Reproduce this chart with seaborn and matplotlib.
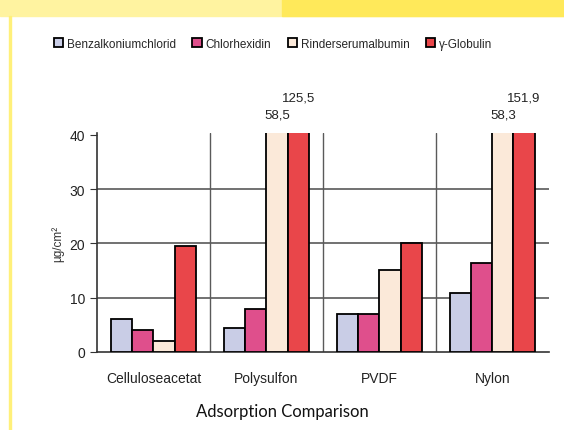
import pandas as pd
import numpy as np
import seaborn as sns
import matplotlib.pyplot as plt
from matplotlib.patches import Rectangle

# Werte aus der Abbildung (µg/cm²)
materialien = ['Celluloseacetat', 'Polysulfon', 'PVDF', 'Nylon']
substanzen = ['Benzalkoniumchlorid', 'Chlorhexidin', 'Rinderserumalbumin', 'γ-Globulin']
benzalkonium = [6.0, 4.5, 7.0, 10.8]
chlorhexidin = [4.0, 8.0, 7.0, 16.3]
rinderserum = [2.0, 58.5, 15.0, 58.3]
globulin = [19.5, 125.5, 20.0, 151.9]
farben = ['#c9cde6', '#df4f8c', '#fbe9d9', '#e9464a']

df = pd.DataFrame({
    'Material': materialien * 4,
    'Substanz': np.repeat(substanzen, 4),
    'Wert': benzalkonium + chlorhexidin + rinderserum + globulin,
})

sns.set_style('white')
plt.rcParams['font.family'] = ['Liberation Sans', 'DejaVu Sans']

fig = plt.figure(figsize=(5.64, 4.31), dpi=100)
ax = fig.add_axes([0.172, 0.181, 0.801, 0.508])

# gelber Rahmen
fig.patches.append(Rectangle((0, 0.96), 1, 0.04, transform=fig.transFigure,
                             color='#fff3a0', zorder=-5))
fig.patches.append(Rectangle((0.5, 0.96), 0.5, 0.04, transform=fig.transFigure,
                             color='#ffe95a', zorder=-5))
fig.patches.append(Rectangle((0.016, 0), 0.003, 0.96, transform=fig.transFigure,
                             color='#fff07a', zorder=-5))

sns.barplot(data=df, x='Material', y='Wert', hue='Substanz', order=materialien,
            hue_order=substanzen, palette=farben, width=0.75, edgecolor='black',
            linewidth=1.3, saturation=1, ax=ax, zorder=3)

ymax = 40
ax.set_ylim(0, 40.3)
ax.set_xlim(-0.5, 3.5)
ax.set_yticks([0, 10, 20, 30, 40])
for y in [10, 20, 30]:
    ax.axhline(y, color='#4a4a4a', lw=1.1, zorder=1)
for x in [0.5, 1.5, 2.5]:
    ax.axvline(x, color='#5a5a5a', lw=1.0, zorder=1)

# Werte über abgeschnittenen Balken
for i, cont in enumerate(ax.containers):
    for bar, val in zip(cont, cont.datavalues):
        if val > ymax:
            yy = 43.8 if i == 2 else 46.8
            ax.text(bar.get_x() + bar.get_width() / 2, yy,
                    f'{val:.1f}'.replace('.', ','), ha='center', va='center',
                    fontsize=9.5, color='#222222', clip_on=False)

sns.despine(ax=ax, top=True, right=True)
ax.spines['left'].set_color('#333333')
ax.spines['bottom'].set_color('#333333')
ax.spines['left'].set_linewidth(1.2)
ax.spines['bottom'].set_linewidth(1.2)
ax.tick_params(axis='y', left=True, length=5, color='#333333', labelsize=10,
               labelcolor='#222222')
ax.tick_params(axis='x', bottom=False, labelsize=10, labelcolor='#222222', pad=10)
ax.set_xlabel('')
ax.set_ylabel('µg/cm²', fontsize=8.5, color='#333333', labelpad=4)

ax.legend(loc='center', bbox_to_anchor=(0.484, 0.896), bbox_transform=fig.transFigure,
          ncol=4, frameon=False, fontsize=8.5, handlelength=0.8, handleheight=0.8,
          handletextpad=0.3, columnspacing=1.4, borderaxespad=0)

fig.text(0.5, 0.045, 'Adsorption Comparison', ha='center', va='center',
         fontsize=12, family=['Lato', 'DejaVu Sans'], color='#111111')

plt.savefig('out.png', dpi=100)
